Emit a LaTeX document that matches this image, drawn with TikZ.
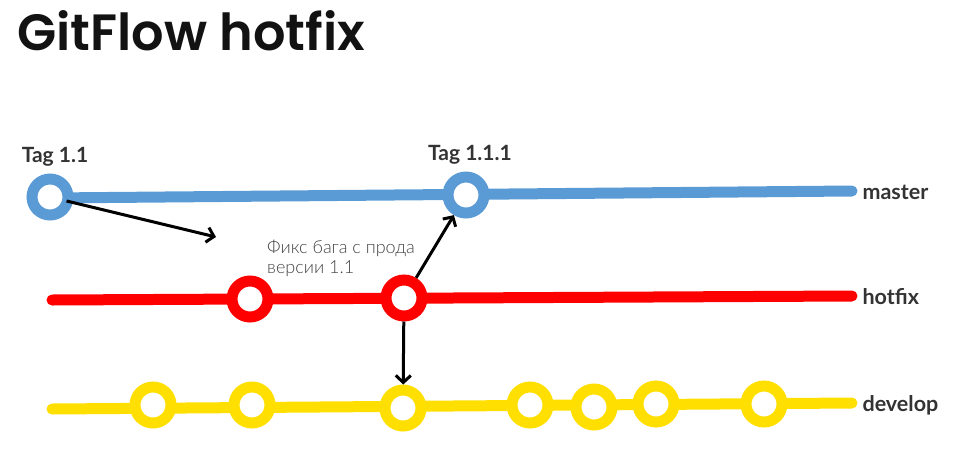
\documentclass[tikz,border=0pt]{standalone}
\usepackage{fontspec}
\setmainfont{Lato}
\newfontfamily\titlefont{Poppins SemiBold}
\newfontfamily\notefont{Lato Light}
\usetikzlibrary{arrows.meta,backgrounds}
\definecolor{masterblue}{HTML}{5B9BD5}
\definecolor{hotfixred}{HTML}{FF0000}
\definecolor{developyellow}{HTML}{FFDF00}
\definecolor{labelgray}{HTML}{333333}
\definecolor{notegray}{HTML}{444444}
\begin{document}
\begin{tikzpicture}[x=1pt,y=-1pt,
  commit/.style={circle, draw=#1, line width=11pt, fill=white, minimum size=36pt, inner sep=0pt},
  branch/.style={draw=#1, line width=11pt, line cap=round},
  merge/.style={line width=3pt, -{Straight Barb[length=7pt,width=15pt,line width=3pt]}},
  branchlabel/.style={anchor=west, text=labelgray, font=\bfseries\fontsize{21.5}{24}\selectfont},
  taglabel/.style={text=labelgray, font=\bfseries\fontsize{21}{24}\selectfont}]
\useasboundingbox (0,0) rectangle (959,448);

% nadpis
\node[anchor=base west, text=black!93, font=\titlefont\fontsize{51}{56}\selectfont] (title) at (14,50) {GitFlow hotfix};

% commity
\node[commit=masterblue] (m1) at (50,197) {};
\node[commit=masterblue] (m2) at (466,195) {};
\coordinate (mstart) at (50,198);
\coordinate (mend) at (852,191);
\coordinate (hstart) at (52,300);
\node[commit=hotfixred] (h1) at (250,299) {};
\node[commit=hotfixred] (h2) at (404,298) {};
\coordinate (hend) at (852,296);
\coordinate (dstart) at (52,409);
\foreach \name/\x/\y in {d1/153/405, d2/252/405, d3/403/408, d4/530/405, d5/594/407, d6/656/404, d7/764/404}
  \node[commit=developyellow] (\name) at (\x,\y) {};
\coordinate (dend) at (852,403);

% vetve
\begin{scope}[on background layer]
\draw[branch=masterblue] (mstart) -- (mend);
\draw[branch=hotfixred] (hstart) -- (hend);
\draw[branch=developyellow] (dstart) -- (dend);
\end{scope}

% popisky
\node[branchlabel] (masterlabel) at (859,192) {master};
\node[branchlabel] (hotfixlabel) at (859,297) {hotfix};
\node[branchlabel] (developlabel) at (859,405) {develop};
\node[taglabel] (tag1) at (55,157) {Tag 1.1};
\node[taglabel] (tag2) at (470,155) {Tag 1.1.1};
\node[anchor=north west, align=left, text=notegray, font=\notefont\fontsize{18}{20}\selectfont, inner sep=0pt] (note) at (267,240) {Фикс бага с прода\\версии 1.1};

% sipky
\coordinate (fixend) at (216,237);
\draw[merge, shorten <=17pt] (m1.center) -- (fixend);
\draw[merge] (h2) -- (m2);
\draw[merge] (h2) -- (d3);
\end{tikzpicture}
\end{document}
